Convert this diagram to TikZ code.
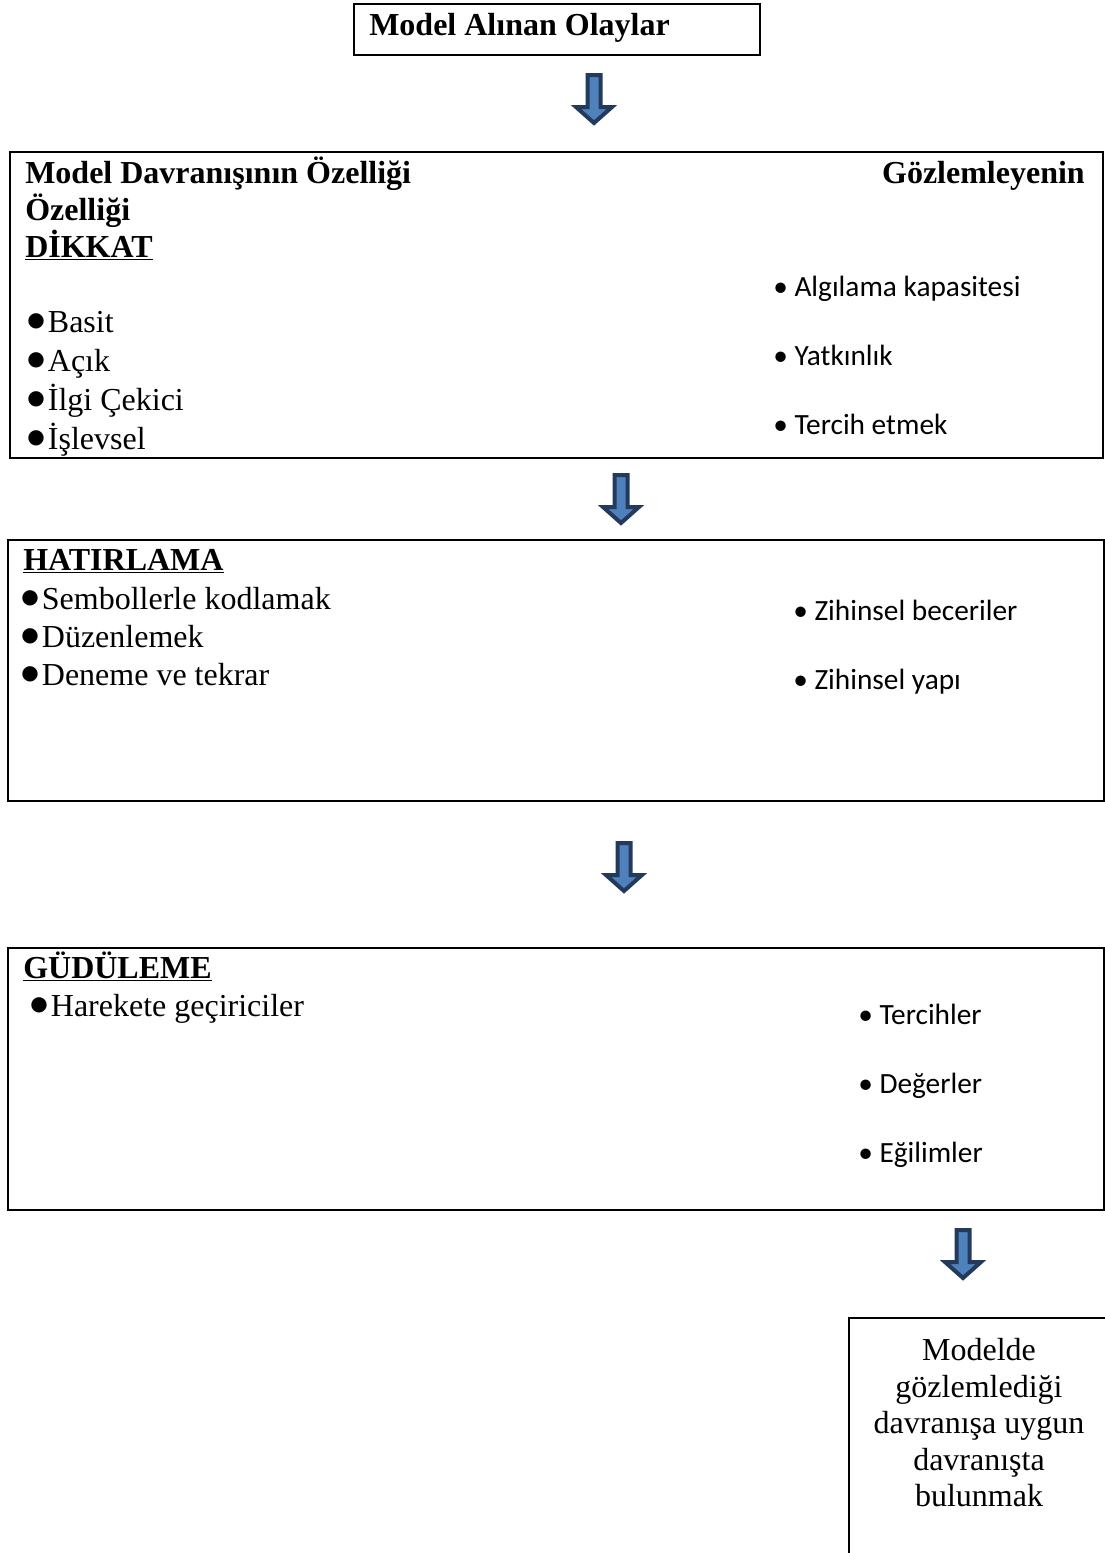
\documentclass[tikz,border=0pt]{standalone}
\usepackage{fontspec}
\setmainfont{Liberation Serif}
\newfontfamily\calibri{Carlito}
\newfontfamily\dejavu{DejaVu Sans}
\definecolor{arrowfill}{HTML}{4F81BD}
\definecolor{arrowedge}{HTML}{233A5C}
\newcommand\blt{\raisebox{0.17em}{\dejavu\fontsize{15}{15}\selectfont ●}\hspace{0.1em}}
\begin{document}
\begin{tikzpicture}[x=0.75pt,y=-0.75pt,
 box/.style ={draw=black,line width=1.5pt},
 lefttext/.style ={anchor=base west,inner sep=0pt,font=\fontsize{24}{28}\selectfont},
 heading/.style ={lefttext,font=\fontsize{24}{28}\selectfont\bfseries},
 righttext/.style ={anchor=base west,inner sep=0pt,font=\calibri\fontsize{22}{26}\selectfont},
 arrowbody/.style ={fill=arrowfill,draw=arrowedge,line width=3pt,line join=miter},
 downarrow/.pic ={\draw[arrowbody] (-6.5,-25) -- (-6.5,7) -- (-18,7) -- (0,23) -- (18,7) -- (6.5,7) -- (6.5,-25) -- cycle;}
 ]
\useasboundingbox (0,0) rectangle (1105,1553);
%draw top box
\draw[box] (354,4) rectangle (760,55);
\node[heading] (olaylar) at (369,35) {Model Alınan Olaylar};
%draw arrow 1
\pic at (594,100) {downarrow};
%draw attention box
\draw[box] (10,152) rectangle (1103,458);
\node[heading] (model) at (25,183) {Model Davranışının Özelliği};
\node[heading,anchor=base east] (gozlem) at (1085,183) {Gözlemleyenin};
\node[heading] (ozellik) at (25,220) {Özelliği};
\node[heading] (dikkat) at (25,257) {\underline{DİKKAT}};
\node[lefttext] (basit) at (27,332) {\blt Basit};
\node[lefttext] (acik) at (27,371) {\blt Açık};
\node[lefttext] (ilgi) at (27,410) {\blt İlgi Çekici};
\node[lefttext] (islev) at (27,449) {\blt İşlevsel};
\node[righttext] (algi) at (773,296) {• Algılama kapasitesi};
\node[righttext] (yatki) at (773,365) {• Yatkınlık};
\node[righttext] (tercih) at (773,434) {• Tercih etmek};
%draw arrow 2
\pic at (621,500) {downarrow};
%draw memory box
\draw[box] (8,540) rectangle (1104,801);
\node[heading] (hatir) at (23,570) {\underline{HATIRLAMA}};
\node[lefttext] (sembol) at (21,609) {\blt Sembollerle kodlamak};
\node[lefttext] (duzen) at (21,647) {\blt Düzenlemek};
\node[lefttext] (deneme) at (21,685) {\blt Deneme ve tekrar};
\node[righttext] (beceri) at (793,620) {• Zihinsel beceriler};
\node[righttext] (yapi) at (793,689) {• Zihinsel yapı};
%draw arrow 3
\pic at (624,868) {downarrow};
%draw motivation box
\draw[box] (8,948) rectangle (1104,1210);
\node[heading] (gudu) at (23,978) {\underline{GÜDÜLEME}};
\node[lefttext] (hareket) at (30,1016) {\blt Harekete geçiriciler};
\node[righttext] (tercihler) at (858,1024) {• Tercihler};
\node[righttext] (deger) at (858,1093) {• Değerler};
\node[righttext] (egilim) at (858,1162) {• Eğilimler};
%draw arrow 4
\pic at (963,1255) {downarrow};
%draw behaviour box (open at right and bottom)
\draw[box] (849,1560) -- (849,1318) -- (1110,1318);
\node[anchor=north,inner sep=0pt,align=center,font=\fontsize{24}{27.4}\selectfont] (davranis) at (979,1338)
 {Modelde\\gözlemlediği\\davranışa uygun\\davranışta\\bulunmak};
\end{tikzpicture}
\end{document}
